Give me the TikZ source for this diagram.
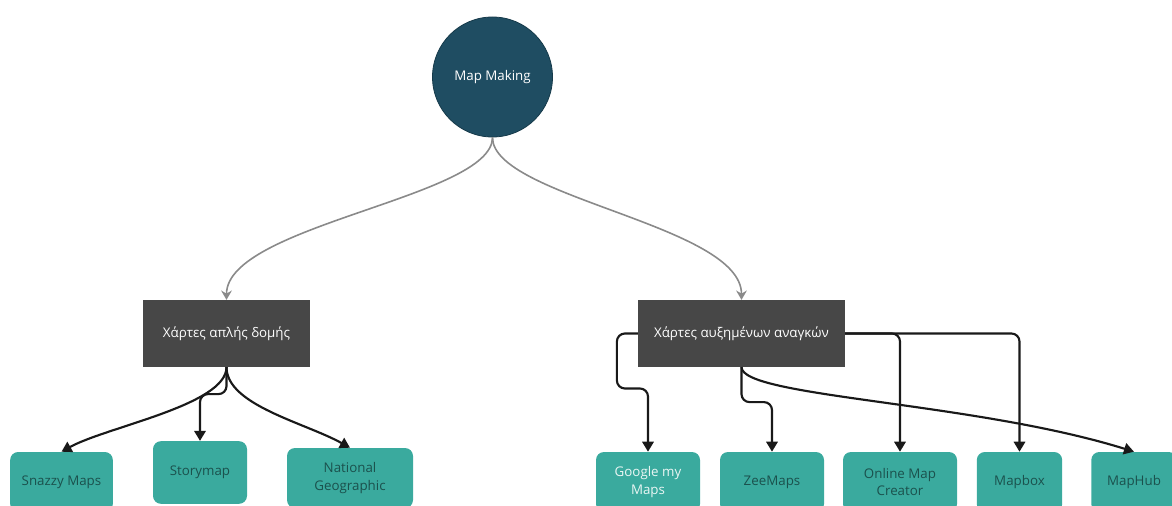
\documentclass[tikz,border=0pt]{standalone}
\usepackage{fontspec}
\setmainfont{Open Sans}
\usetikzlibrary{arrows.meta,positioning,calc}
\definecolor{rootfill}{HTML}{1F4D62}
\definecolor{rootline}{HTML}{163A4A}
\definecolor{midfill}{HTML}{474747}
\definecolor{leaffill}{HTML}{3AAA9E}
\definecolor{leaftext}{HTML}{1B514D}
\definecolor{leaflight}{HTML}{EAF6F4}
\definecolor{graylink}{HTML}{8A8A8A}
\begin{document}
\begin{tikzpicture}[x=0.75pt,y=-0.75pt,
  rootnode/.style={circle,fill=rootfill,draw=rootline,line width=0.6pt,minimum size=90pt,inner sep=0pt,text=white,font=\fontsize{10}{12}\selectfont},
  midnode/.style={rectangle,fill=midfill,draw=none,minimum height=50pt,text=white,font=\fontsize{10}{12}\selectfont},
  leafnode/.style={rectangle,rounded corners=6pt,fill=leaffill,draw=none,minimum height=45pt,text=leaftext,align=center,font=\fontsize{10}{13}\selectfont},
  graylinkstyle/.style={draw=graylink,line width=1.2pt,-{Stealth[length=7pt,width=8pt]}},
  blacklink/.style={draw=black!90,line width=1.6pt,-{Triangle[length=7.5pt,width=8.5pt]}},
  orth/.style={blacklink,rounded corners=6pt}]
\useasboundingbox (0,0) rectangle (1172,506);
% nodes
\node[rootnode] (mm) at (492.5,77) {Map Making};
\node[midnode,minimum width=125pt] (b1) at (226.5,333.5) {Χάρτες απλής δομής};
\node[midnode,minimum width=155pt] (b2) at (741.5,333.5) {Χάρτες αυξημένων αναγκών};
% leaves
\node[leafnode,minimum width=77pt] (sz) at (61.5,482) {Snazzy Maps};
\node[leafnode,minimum width=70.5pt,minimum height=47pt] (sm) at (200,472.5) {Storymap};
\node[leafnode,minimum width=94.5pt] (ng) at (350,478) {National\\Geographic};
\node[leafnode,minimum width=78pt,text=leaflight] (gm) at (648,482) {Google my\\Maps};
\node[leafnode,minimum width=78pt] (zm) at (772,482) {ZeeMaps};
\node[leafnode,minimum width=85.5pt] (omc) at (900,482) {Online Map\\Creator};
\node[leafnode,minimum width=64pt] (mb) at (1019.5,482) {Mapbox};
\node[leafnode,minimum width=64pt] (mh) at (1134,482) {MapHub};
% root links
\draw[graylinkstyle] (mm.south) .. controls +(0,60) and +(0,-75) .. (b1.north);
\draw[graylinkstyle] (mm.south) .. controls +(0,60) and +(0,-75) .. (b2.north);
% box1 links
\draw[blacklink] (b1.south) .. controls +(0,38) and +(45,-25) .. (sz.north);
\draw[orth] (b1.south) -- ++(0,27) -| (sm.north);
\draw[blacklink] (b1.south) .. controls +(0,38) and +(-45,-25) .. (ng.north);
% box2 links
\draw[orth] (b2.west) -- ++(-21,0) -- ++(0,55) -| (gm.north);
\draw[orth] (b2.south) -- ++(0,35) -| (zm.north);
\draw[orth] (b2.east) -| (omc.north);
\draw[orth] (b2.east) -| (mb.north);
\draw[blacklink] (b2.south) .. controls +(0,30) and +(-160,-50) .. (mh.north);
\end{tikzpicture}
\end{document}
